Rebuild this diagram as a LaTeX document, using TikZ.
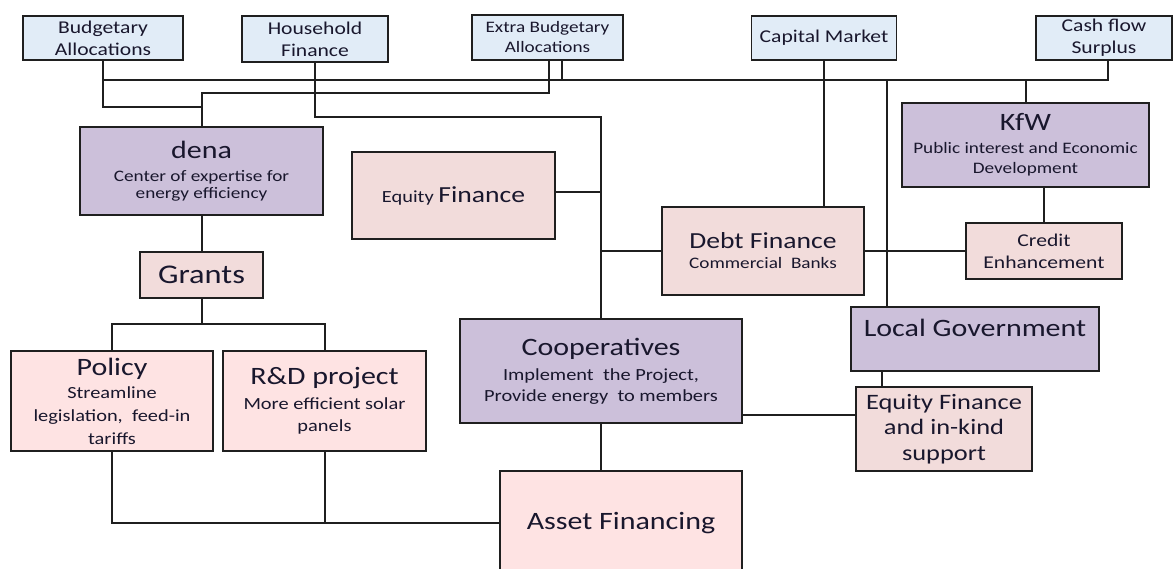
\documentclass[tikz,border=0pt]{standalone}
\usepackage{fontspec}
\setmainfont{Carlito}[FakeStretch=1.2]
\definecolor{cTop}{RGB}{225,236,247}
\definecolor{cPurp}{RGB}{204,192,218}
\definecolor{cPinkA}{RGB}{242,220,219}
\definecolor{cPinkB}{RGB}{254,227,227}
\definecolor{cTxt}{RGB}{25,23,45}
\newcommand{\ttlf}{\fontsize{25}{30}\selectfont}
\tikzset{
  box/.style={draw=black!88, line width=1.9pt, inner sep=0pt, align=center, text=cTxt},
  topbox/.style={box, fill=cTop, font=\fontsize{18}{22}\selectfont},
  purpbox/.style={box, fill=cPurp},
  pinkabox/.style={box, fill=cPinkA},
  pinkbbox/.style={box, fill=cPinkB},
  link/.style={draw=black!88, line width=2pt},
  sz/.style 2 args={minimum width=#1pt, minimum height=#2pt}
}
\begin{document}
\begin{tikzpicture}[x=1pt,y=-1pt]
\useasboundingbox (0,0) rectangle (1173,569);
\clip (0,0) rectangle (1173,569);
\coordinate (busTop) at (0,80);
\coordinate (busD1) at (0,93);
\coordinate (busD2) at (0,107);
\coordinate (busH) at (0,117);
\coordinate (busG) at (0,324);

% top row
\node[topbox, sz={160}{44}] (budget) at (103,38) {Budgetary\\Allocations};
\node[topbox, sz={146}{46}] (house) at (315,39) {Household\\Finance};
\node[topbox, sz={151}{45}, font=\fontsize{16}{20}\selectfont] (extra) at (547.5,37.5) {Extra Budgetary\\Allocations};
\node[topbox, sz={145}{44}] (capital) at (824,38) {Capital Market};
\node[topbox, sz={136}{44}] (cash) at (1104,38) {Cash flow\\Surplus};

% middle
\node[purpbox, sz={243}{88}, font=\fontsize{16}{17}\selectfont] (dena) at (201.5,171)
  {{\ttlf dena}\\[6pt]Center of expertise for\\energy efficiency};
\node[pinkabox, sz={203}{87}] (eqfin) at (453.5,195.5)
  {\fontsize{17}{20}\selectfont Equity \fontsize{23}{28}\selectfont Finance};
\node[purpbox, sz={247}{84}, font=\fontsize{16}{20}\selectfont] (kfw) at (1025.5,145)
  {{\ttlf KfW}\\[3pt]Public interest and Economic\\Development};
\node[pinkabox, sz={202}{88}, font=\fontsize{16}{19}\selectfont] (debt) at (763,251)
  {{\fontsize{23}{28}\selectfont Debt Finance}\\[1pt]Commercial~ Banks};
\node[pinkabox, sz={156}{56}, font=\fontsize{18}{22}\selectfont] (credit) at (1044,251) {Credit\\Enhancement};
\node[pinkabox, sz={123}{46}, font=\fontsize{27}{30}\selectfont] (grants) at (201.5,275) {Grants};
\node[purpbox, sz={248}{64}, label={[font=\ttlf, text=cTxt, yshift=11pt]center:Local Government}] (localgov) at (975,339) {};
\node[purpbox, sz={282}{104}, font=\fontsize{17}{21}\selectfont] (coop) at (601,371)
  {{\ttlf Cooperatives}\\[4pt]Implement~ the Project,\\Provide energy~ to members};
\node[pinkbbox, sz={202}{100}, font=\fontsize{17}{23}\selectfont] (policy) at (112,401)
  {{\ttlf Policy}\\Streamline\\legislation,~ feed-in\\tariffs};
\node[pinkbbox, sz={203}{100}, font=\fontsize{17}{22}\selectfont] (rnd) at (324.5,401)
  {{\ttlf R\&D project}\\[3pt]More efficient solar\\panels};
\node[pinkabox, sz={176}{84}, font=\fontsize{22}{25.5}\selectfont] (eqkind) at (944,429) {Equity Finance\\and in-kind\\support};
\node[pinkbbox, sz={242}{104}, font=\fontsize{25}{30}\selectfont] (asset) at (621,523) {Asset Financing};

% connectors
\draw[link] (budget.south) |- (dena.north |- busD2) -- (dena.north);
\draw[link] (budget.south |- busTop) -| ([xshift=4pt]cash.south);
\draw[link] ([xshift=14.5pt]extra.south) -- ([xshift=14.5pt]extra.south |- busTop);
\draw[link] ([xshift=1.5pt]extra.south) |- (dena.north |- busD1) -- (dena.north);
\draw[link] (house.south) |- (coop.north |- busH) -- (coop.north);
\draw[link] (capital.south) -- (capital.south |- debt.north);
\coordinate (lgTop) at ([xshift=-88pt]localgov.north);
\draw[link] (lgTop) -- (lgTop |- busTop);
\draw[link] (kfw.north) -- (kfw.north |- busTop);
\draw[link] (credit.north) -- (credit.north |- kfw.south);
\draw[link] (debt.east) -- (credit.west);
\draw[link] ([yshift=3.5pt]eqfin.east) -- ([yshift=3.5pt]eqfin.east -| coop.north);
\draw[link] (debt.west) -- (debt.west -| coop.north);
\draw[link] (dena.south) -- (grants.north);
\draw[link] (policy.north) |- (rnd.north |- busG) -- (rnd.north);
\draw[link] (grants.south) -- (grants.south |- busG);
\draw[link] (policy.south) |- (asset.west);
\draw[link] (rnd.south) -- (rnd.south |- asset.west);
\draw[link] (coop.south) -- (coop.south |- asset.north);
\draw[link] ([yshift=-44pt]coop.east) -- ([yshift=-44pt]coop.east -| eqkind.west);
\coordinate (lgBot) at ([xshift=-93pt]localgov.south);
\draw[link] (lgBot) -- (lgBot |- eqkind.north);
\end{tikzpicture}
\end{document}
